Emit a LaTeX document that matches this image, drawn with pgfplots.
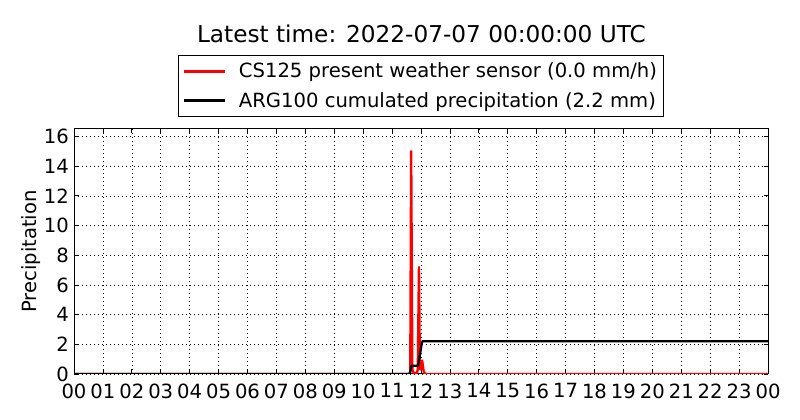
\documentclass[border=0pt]{standalone}
\usepackage{pgfplots}
\pgfplotsset{compat=1.18}
\usepackage{fontspec}
\setmainfont{DejaVu Sans}
\begin{document}
\begin{tikzpicture}
\useasboundingbox (0,0) rectangle (800bp,420bp);
\node[anchor=base, font=\fontsize{23.2bp}{27bp}\selectfont] at (421.5bp,377.7bp) {Latest time: 2022-07-07 00:00:00 UTC};
\begin{axis}[
  at={(74bp,46bp)}, anchor=south west,
  scale only axis, width=694bp, height=245bp,
  xmin=0, xmax=24, ymin=0, ymax=16.5,
  xtick={0,...,24},
  xticklabels={00,01,02,03,04,05,06,07,08,09,10,11,12,13,14,15,16,17,18,19,20,21,22,23,00},
  ytick={0,2,...,16},
  tick align=inside, tick pos=both,
  major tick length=4.5bp,
  every tick/.style={black, line width=0.8bp},
  axis line style={line width=1bp, black},
  grid=major,
  major grid style={black, line width=0.6bp, dash pattern=on 1bp off 3bp},
  /pgf/number format/assume math mode=true,
  tick label style={font=\fontsize{19.6bp}{23bp}\selectfont},
  xticklabel style={inner sep=0pt, yshift=-9.5bp},
  yticklabel style={inner sep=0pt, xshift=-5bp},
  ylabel={Precipitation},
  every axis y label/.style={at={(axis description cs:-0.0537,0.5)}, rotate=90, anchor=base, inner sep=0pt,
    font=\fontsize{19.6bp}{23bp}\selectfont},
  legend style={at={(0.5,1)}, anchor=south, yshift=12bp, font=\fontsize{19.6bp}{23bp}\selectfont,
    draw=black, line width=0.8bp, inner xsep=4.5bp, inner ysep=5.5bp, row sep=9.5bp, column sep=10bp, cells={anchor=west}},
  legend image code/.code={\draw[#1, line width=3bp] (0bp,0bp) -- (41bp,0bp);},
]
\addplot[red, line width=2.4bp, line join=round] coordinates {
(0,0) (11.60,0) (11.63,0.2) (11.66,15.0) (11.70,0.3) (11.74,0.1) (11.80,0.05) (11.86,0.1)
(11.89,0.3) (11.93,7.2) (11.96,0.4) (12.00,0.3) (12.04,0.9) (12.09,0.2) (12.14,0) (24,0)};
\addlegendentry{CS125 present weather sensor (0.0 mm/h)}
\addplot[black, line width=2.2bp, line join=round] coordinates {
(0,0) (11.61,0) (11.67,0.55) (11.90,0.55) (12.04,2.2) (24,2.2)};
\addlegendentry{ARG100 cumulated precipitation (2.2 mm)}
\end{axis}
\end{tikzpicture}
\end{document}
